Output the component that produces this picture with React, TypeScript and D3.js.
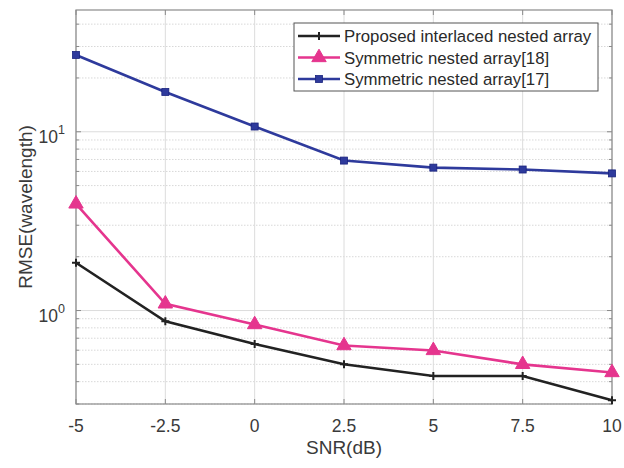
import React from "react";
import * as d3 from "d3";

const snr = [-5, -2.5, 0, 2.5, 5, 7.5, 10];
const proposed = [1.85, 0.87, 0.65, 0.5, 0.43, 0.43, 0.315];
const sym18 = [3.95, 1.09, 0.835, 0.637, 0.598, 0.5, 0.45];
const sym17 = [26.9, 16.7, 10.7, 6.9, 6.3, 6.15, 5.85];
const xTicks = [-5, -2.5, 0, 2.5, 5, 7.5, 10];
const seriesNames = ["Proposed interlaced nested array", "Symmetric nested array[18]", "Symmetric nested array[17]"];

const W = 624, H = 468;
const m = { left: 76, right: 12, top: 10, bottom: 64 };

const App = () => {
  const x = d3.scaleLinear().domain([-5, 10]).range([m.left, W - m.right]);
  const y = d3.scaleLog().domain([0.3, 48]).range([H - m.bottom, m.top]);

  const series = [
    { name: seriesNames[0], data: proposed, color: "#222222", marker: "plus" },
    { name: seriesNames[1], data: sym18, color: "#e5358e", marker: "tri" },
    { name: seriesNames[2], data: sym17, color: "#2e3a9c", marker: "sq" },
  ];

  const minor: number[] = [];
  for (const d of [0.1, 1, 10]) for (let k = 2; k <= 9; k++) {
    const v = d * k;
    if (v >= 0.3 && v <= 48) minor.push(v);
  }
  const majors = [1, 10];

  const line = d3.line<number>().x((_, i) => x(snr[i])).y(v => y(v));

  const marker = (kind: string, cx: number, cy: number, color: string, key: string) => {
    if (kind === "plus") return (
      <path key={key} d={`M${cx - 4},${cy}H${cx + 4}M${cx},${cy - 4}V${cy + 4}`} stroke={color} strokeWidth={2} />
    );
    if (kind === "tri") return (
      <path key={key} d={d3.symbol(d3.symbolTriangle, 90)()!} transform={`translate(${cx},${cy})`} fill={color} stroke={color} />
    );
    return <rect key={key} x={cx - 3.5} y={cy - 3.5} width={7} height={7} fill={color} stroke="#1a237e" strokeWidth={0.8} />;
  };

  const pw = W - m.left - m.right;
  const ph = H - m.top - m.bottom;
  const font = "Liberation Sans, Arial, sans-serif";

  return (
    <svg width={W} height={H} style={{ position: "absolute", left: 0, top: 0, background: "#fff" }} fontFamily={font}>
      {/* grid */}
      {minor.map(v => (
        <line key={"mn" + v} x1={m.left} x2={W - m.right} y1={y(v)} y2={y(v)} stroke="#d8d8d8" strokeDasharray="1.5,1.5" />
      ))}
      {majors.map(v => (
        <line key={"mj" + v} x1={m.left} x2={W - m.right} y1={y(v)} y2={y(v)} stroke="#dcdcdc" />
      ))}
      {xTicks.map(t => (
        <line key={"gx" + t} x1={x(t)} x2={x(t)} y1={m.top} y2={H - m.bottom} stroke="#dcdcdc" />
      ))}

      {/* axes box and ticks */}
      <rect x={m.left} y={m.top} width={pw} height={ph} fill="none" stroke="#8a8a8a" strokeWidth={1.2} />
      {xTicks.map(t => (
        <g key={"tx" + t}>
          <line x1={x(t)} x2={x(t)} y1={H - m.bottom} y2={H - m.bottom - 5} stroke="#8a8a8a" />
          <line x1={x(t)} x2={x(t)} y1={m.top} y2={m.top + 5} stroke="#8a8a8a" />
          <text x={x(t)} y={H - m.bottom + 28} textAnchor="middle" fontSize={17.5} fill="#3a3a3a">{t}</text>
        </g>
      ))}
      {[...minor, ...majors].map(v => (
        <g key={"ty" + v}>
          <line x1={m.left} x2={m.left + (majors.includes(v) ? 5 : 3)} y1={y(v)} y2={y(v)} stroke="#8a8a8a" />
          <line x1={W - m.right} x2={W - m.right - (majors.includes(v) ? 5 : 3)} y1={y(v)} y2={y(v)} stroke="#8a8a8a" />
        </g>
      ))}
      {majors.map((v, i) => (
        <text key={"yl" + v} x={m.left - 11} y={y(v) + 11} textAnchor="end" fontSize={17.5} fill="#3a3a3a">
          10<tspan dy={-9} fontSize={12.5}>{i === 0 ? "0" : "1"}</tspan>
        </text>
      ))}

      <text x={x(2.5)} y={H - 14} textAnchor="middle" fontSize={19} fill="#3a3a3a">SNR(dB)</text>
      <text transform={`translate(32,${m.top + ph / 2}) rotate(-90)`} textAnchor="middle" fontSize={19} fill="#3a3a3a">RMSE(wavelength)</text>

      {/* series */}
      {series.map(s => (
        <g key={s.name}>
          <path d={line(s.data)!} fill="none" stroke={s.color} strokeWidth={2.6} />
          {s.data.map((v, i) => marker(s.marker, x(snr[i]), y(v), s.color, s.name + i))}
        </g>
      ))}

      {/* legend */}
      <g>
        <rect x={294} y={23} width={304} height={68} fill="#fff" stroke="#555" strokeWidth={1} />
        {series.map((s, i) => {
          const ly = 36 + i * 21.5;
          return (
            <g key={"lg" + i}>
              <line x1={298} x2={340} y1={ly} y2={ly} stroke={s.color} strokeWidth={2.6} />
              {marker(s.marker, 319, ly, s.color, "lm" + i)}
              <text x={344} y={ly + 6} fontSize={16.8} fill="#2a2a2a">{s.name}</text>
            </g>
          );
        })}
      </g>
    </svg>
  );
};

export default App;
